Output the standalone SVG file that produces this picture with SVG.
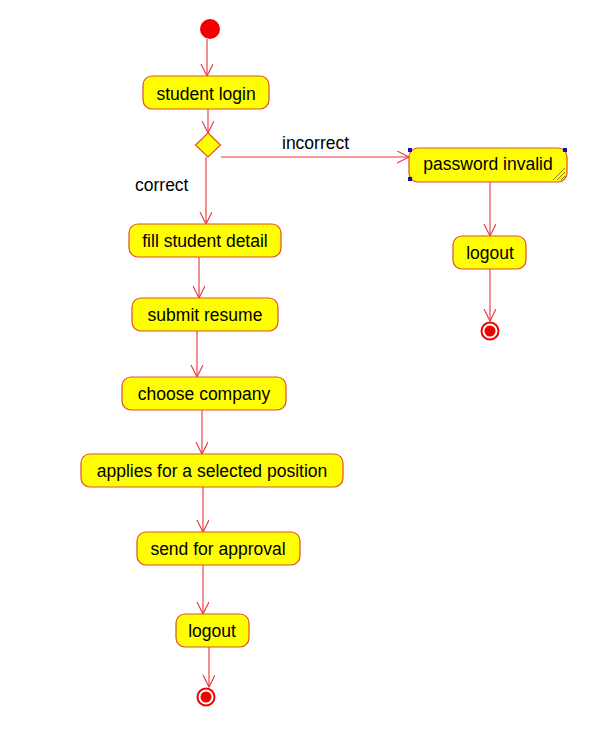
<svg xmlns="http://www.w3.org/2000/svg" width="604" height="731" viewBox="0 0 604 731">
<defs>
<style>
.act{fill:#FFFF00;stroke:#E0502A;stroke-width:1.2}
.lbl{font-family:"Liberation Sans",Arial,sans-serif;font-size:17.5px;fill:#000}
.c{text-anchor:middle}
.ln{stroke:#E8333A;stroke-width:1.1;fill:none}
.sel{fill:#1010C0}
</style>
<marker id="ah" markerWidth="14" markerHeight="14" refX="12" refY="6" orient="auto" markerUnits="userSpaceOnUse">
<path d="M0,0 L12,6 L0,12" fill="none" stroke="#E8333A" stroke-width="1.1"/>
</marker>
</defs>
<rect width="604" height="731" fill="#fff"/>
<g id="connectors">
<line class="ln" x1="207" y1="39" x2="207" y2="76" marker-end="url(#ah)"/>
<line class="ln" x1="208" y1="109" x2="208" y2="133" marker-end="url(#ah)"/>
<line class="ln" x1="221" y1="157" x2="409" y2="157" marker-end="url(#ah)"/>
<line class="ln" x1="206" y1="157" x2="206" y2="224" marker-end="url(#ah)"/>
<line class="ln" x1="199" y1="257" x2="199" y2="298" marker-end="url(#ah)"/>
<line class="ln" x1="197" y1="331" x2="197" y2="377" marker-end="url(#ah)"/>
<line class="ln" x1="202" y1="410" x2="202" y2="454" marker-end="url(#ah)"/>
<line class="ln" x1="203" y1="487" x2="203" y2="532" marker-end="url(#ah)"/>
<line class="ln" x1="203" y1="565" x2="203" y2="614" marker-end="url(#ah)"/>
<line class="ln" x1="209" y1="647" x2="209" y2="687" marker-end="url(#ah)"/>
<line class="ln" x1="490" y1="182" x2="490" y2="236" marker-end="url(#ah)"/>
<line class="ln" x1="490" y1="269" x2="490" y2="321" marker-end="url(#ah)"/>
<text class="lbl" x="282" y="149">incorrect</text>
<text class="lbl" x="135" y="191">correct</text>
</g>
<g id="start"><circle cx="210" cy="29" r="10" fill="#F00000"/></g>
<g id="studentLogin"><rect class="act" x="143" y="76" width="126" height="33" rx="9"/><text class="lbl c" x="206" y="100">student login</text></g>
<g id="decision"><polygon points="208,133 220.5,145 208,157 195.5,145" fill="#FFFF00" stroke="#E0502A" stroke-width="1.2"/></g>
<g id="passwordInvalid">
<rect class="act" x="409" y="148" width="158" height="34" rx="9"/>
<text class="lbl c" x="488" y="170">password invalid</text>
<path d="M553,180 L565,168 M557,180 L565,172 M561,180 L565,176" stroke="#807020" stroke-width="0.9"/>
<rect class="sel" x="408" y="148" width="4" height="4"/>
<rect class="sel" x="408" y="177" width="4" height="4"/>
<rect class="sel" x="563" y="148" width="4" height="4"/>
</g>
<g id="logout2"><rect class="act" x="453" y="236" width="73" height="33" rx="9"/><text class="lbl c" x="490" y="259">logout</text></g>
<g id="end2"><circle cx="490" cy="331" r="8.5" fill="#fff" stroke="#F00000" stroke-width="2"/><circle cx="490" cy="331" r="5.5" fill="#F00000"/></g>
<g id="fillStudentDetail"><rect class="act" x="129" y="224" width="152" height="33" rx="9"/><text class="lbl c" x="205" y="247">fill student detail</text></g>
<g id="submitResume"><rect class="act" x="132" y="298" width="146" height="33" rx="9"/><text class="lbl c" x="205" y="321">submit resume</text></g>
<g id="chooseCompany"><rect class="act" x="122" y="377" width="164" height="33" rx="9"/><text class="lbl c" x="204" y="400">choose company</text></g>
<g id="applies"><rect class="act" x="81" y="454" width="262" height="33" rx="9"/><text class="lbl c" x="212" y="477">applies for a selected position</text></g>
<g id="sendForApproval"><rect class="act" x="137" y="532" width="163" height="33" rx="9"/><text class="lbl c" x="218" y="555">send for approval</text></g>
<g id="logout1"><rect class="act" x="176" y="614" width="73" height="33" rx="9"/><text class="lbl c" x="212" y="637">logout</text></g>
<g id="end1"><circle cx="206" cy="697" r="8.5" fill="#fff" stroke="#F00000" stroke-width="2"/><circle cx="206" cy="697" r="5.5" fill="#F00000"/></g>
</svg>
